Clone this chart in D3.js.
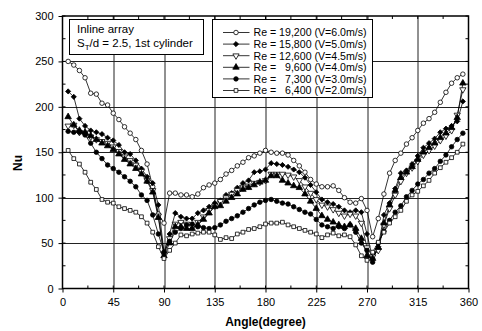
<!DOCTYPE html>
<html>
<head>
<meta charset="utf-8">
<script src="https://cdn.jsdelivr.net/npm/d3@7"></script>
<style>
  body { margin: 0; background: #fff; }
  svg { display: block; font-family: "Liberation Sans", Arial, sans-serif; }
</style>
</head>
<body>
<svg id="chart" width="482" height="331"></svg>
<script>
// 角度 (degree)
const angles = [5,10,15,20,25,30,35,40,45,50,55,60,65,70,75,80,85,90,95,100,
  105,110,115,120,125,130,135,140,145,150,155,160,165,170,175,180,185,190,195,200,
  205,210,215,220,225,230,235,240,245,250,255,260,265,270,275,280,285,290,295,300,
  305,310,315,320,325,330,335,340,345,350,355];

// Nu 各レイノルズ数
const nu19200 = [250,246,240,232,215,214,204,202,193,186, 178,171,164,152,137,112,82,72,105,105,
  103,103,101,104,111,114,116,120,126,130, 135,139,144,146,149,152,150,149,149,147,
  141,135,128,120,115,112,112,113,108,100, 95,94,99,86,57,77,104,127,141,149,
  159,166,174,182,187,194,205,216,226,232, 236];
const nu15800 = [217,211,187,179,174,172,170,166,163,158, 150,148,141,132,123,116,92,40,60,83,
  79,77,77,83,86,90,94,97,103,105, 111,116,119,128,129,131,138,137,136,134,
  131,128,122,114,106,98,95,93,90,86, 84,86,84,60,33,46,81,94,110,127,
  130,137,146,155,160,165,172,176,179,184, 206];
const nu12600 = [179,180,172,171,167,164,162,160,156,151, 145,141,136,129,119,108,80,38,55,71,
  73,71,68,73,79,86,91,96,100,104, 108,111,113,116,117,119,126,126,126,125,
  123,119,112,105,98,92,90,87,83,80, 82,80,72,45,35,42,70,88,103,118,
  127,133,140,147,152,157,163,168,174,191, 219];
const nu9600 = [189,180,174,172,168,164,160,157,153,148, 142,137,132,126,118,106,78,36,50,68,
  68,66,66,70,76,83,90,91,96,100, 104,109,111,114,117,119,124,124,119,116,
  113,111,104,96,88,80,76,73,70,68, 70,66,55,36,33,45,72,92,108,122,
  128,134,142,150,155,160,166,171,177,188, 226];
const nu7300 = [173,172,172,169,160,150,143,136,132,128, 123,118,112,103,97,81,60,40,52,62,
  66,70,71,68,67,66,67,70,74,77, 80,84,88,92,95,97,98,96,94,93,
  90,87,84,82,76,70,68,66,68,66, 70,62,50,42,29,50,63,75,84,91,
  101,108,115,120,127,132,140,147,156,164, 171];
const nu6400 = [152,143,137,128,117,109,98,95,94,90, 88,86,84,79,72,62,46,33,42,50,
  59,58,60,61,62,62,59,54,56,55, 60,62,65,66,68,71,72,72,73,70,
  68,66,64,62,60,56,59,61,58,59, 57,48,36,31,40,51,62,72,79,86,
  96,103,107,113,119,127,133,139,144,150, 159];

const legendLabels = [
  "Re = 19,200 (V=6.0m/s)",
  "Re = 15,800 (V=5.0m/s)",
  "Re = 12,600 (V=4.5m/s)",
  "Re =   9,600 (V=4.0m/s)",
  "Re =   7,300 (V=3.0m/s)",
  "Re =   6,400 (V=2.0m/s)"
];
const xTicks = [0,45,90,135,180,225,270,315,360];
const yTicks = [0,50,100,150,200,250,300];

// マーカーの種類
const series = [
  {vals: nu19200, sym: d3.symbolCircle,   size: 16, fill: "#fff", rot: 0},
  {vals: nu15800, sym: d3.symbolSquare,   size: 13, fill: "#000", rot: 45},
  {vals: nu12600, sym: d3.symbolTriangle, size: 17, fill: "#fff", rot: 180},
  {vals: nu9600,  sym: d3.symbolTriangle, size: 18, fill: "#000", rot: 0},
  {vals: nu7300,  sym: d3.symbolCircle,   size: 16, fill: "#000", rot: 0},
  {vals: nu6400,  sym: d3.symbolSquare,   size: 14, fill: "#fff", rot: 0}
];

const svg = d3.select("#chart");
const m = {left: 62.5, right: 13.5, top: 16, bottom: 42.5};
const W = 482 - m.left - m.right, H = 331 - m.top - m.bottom;
const g = svg.append("g").attr("transform", `translate(${m.left},${m.top})`);

const x = d3.scaleLinear().domain([0, 360]).range([0, W]);
const y = d3.scaleLinear().domain([0, 300]).range([H, 0]);

// グリッド
g.append("g").selectAll("line").data(xTicks.slice(1, -1)).join("line")
  .attr("x1", d => Math.round(x(d)) + 0.5).attr("x2", d => Math.round(x(d)) + 0.5)
  .attr("y1", 0).attr("y2", H).attr("stroke", "#222").attr("stroke-width", 1);
g.append("g").selectAll("line").data(yTicks.slice(1, -1)).join("line")
  .attr("y1", d => Math.round(y(d)) + 0.5).attr("y2", d => Math.round(y(d)) + 0.5)
  .attr("x1", 0).attr("x2", W).attr("stroke", "#222").attr("stroke-width", 1);

// 軸（下・左は目盛り付き、上・右は内向きの目盛りだけ）
const xMinor = d3.range(0, 361, 22.5);
const yMinor = d3.range(0, 301, 25);
const xAxis = g.append("g").attr("transform", `translate(0,${H})`)
  .call(d3.axisBottom(x).tickValues(xTicks).tickSize(4).tickPadding(6));
const yAxis = g.append("g")
  .call(d3.axisLeft(y).tickValues(yTicks).tickSize(4).tickPadding(5));
[xAxis, yAxis].forEach(a => {
  a.selectAll("text").attr("font-size", 11).attr("fill", "#000")
    .attr("font-family", "Liberation Sans, Arial, sans-serif");
  a.select(".domain").remove();
});
// 内向きの小目盛り
const tk = g.append("g").attr("stroke", "#000").attr("stroke-width", 1);
xMinor.forEach(v => {
  tk.append("line").attr("x1", x(v)).attr("x2", x(v)).attr("y1", H).attr("y2", H - 3);
  tk.append("line").attr("x1", x(v)).attr("x2", x(v)).attr("y1", 0).attr("y2", 3);
});
yMinor.forEach(v => {
  tk.append("line").attr("x1", 0).attr("x2", 3).attr("y1", y(v)).attr("y2", y(v));
  tk.append("line").attr("x1", W).attr("x2", W - 3).attr("y1", y(v)).attr("y2", y(v));
});
// 枠
g.append("rect").attr("x", 0).attr("y", 0).attr("width", W).attr("height", H)
  .attr("fill", "none").attr("stroke", "#000").attr("stroke-width", 1.5);

// 線とマーカー
const line = d3.line().x((d, i) => x(angles[i])).y(d => y(d));
series.forEach(s => {
  g.append("path").datum(s.vals).attr("d", line)
    .attr("fill", "none").attr("stroke", "#000").attr("stroke-width", 0.8);
});
series.forEach(s => {
  const shape = d3.symbol().type(s.sym).size(s.size);
  g.append("g").selectAll("path").data(s.vals).join("path")
    .attr("d", shape)
    .attr("transform", (d, i) => `translate(${x(angles[i])},${y(d)}) rotate(${s.rot})`)
    .attr("fill", s.fill).attr("stroke", "#000").attr("stroke-width", 0.8);
});

// 注記ボックス
g.append("rect").attr("x", 69.5 - m.left).attr("y", 19.5 - m.top)
  .attr("width", 134).attr("height", 35).attr("fill", "#fff").attr("stroke", "#000");
const ann = svg.append("g").attr("font-size", 11.5);
ann.append("text").attr("x", 77).attr("y", 33).text("Inline array");
const t2 = ann.append("text").attr("x", 77).attr("y", 47);
t2.append("tspan").text("S");
t2.append("tspan").attr("font-size", 8).attr("dy", 3).text("T");
t2.append("tspan").attr("dy", -3).text("/d = 2.5, 1st cylinder");

// 凡例
svg.append("rect").attr("x", 212.5).attr("y", 19.5).attr("width", 160).attr("height", 78)
  .attr("fill", "#fff").attr("stroke", "#000");
const lg = svg.append("g");
series.forEach((s, i) => {
  const ly = 32.5 + i * 11.6;
  lg.append("line").attr("x1", 223).attr("x2", 249.5).attr("y1", ly).attr("y2", ly)
    .attr("stroke", "#000").attr("stroke-width", 0.8);
  lg.append("path").attr("d", d3.symbol().type(s.sym).size(s.size)())
    .attr("transform", `translate(236,${ly}) rotate(${s.rot})`)
    .attr("fill", s.fill).attr("stroke", "#000").attr("stroke-width", 0.8);
  lg.append("text").attr("x", 253.5).attr("y", ly + 3.8).attr("font-size", 10.6)
    .style("white-space", "pre").text(legendLabels[i]);
});

// 軸タイトル
svg.append("text").attr("x", m.left + x(180)).attr("y", 326).attr("text-anchor", "middle")
  .attr("font-size", 12).attr("font-weight", "bold").text("Angle(degree)");
svg.append("text").attr("transform", "translate(22,163) rotate(-90)")
  .attr("text-anchor", "middle").attr("font-size", 12).attr("font-weight", "bold").text("Nu");
</script>
</body>
</html>
